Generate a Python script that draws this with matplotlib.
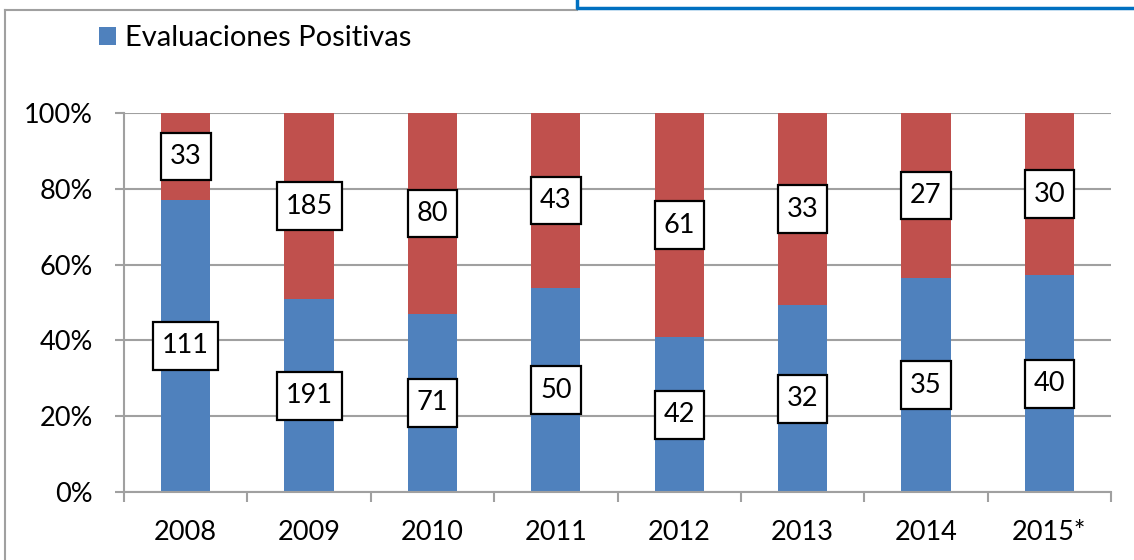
import numpy as np
import matplotlib
matplotlib.use("Agg")
import matplotlib.pyplot as plt
from matplotlib.patches import Patch
from matplotlib.lines import Line2D
from matplotlib.path import Path

# Datos
anios = ['2008', '2009', '2010', '2011', '2012', '2013', '2014', '2015*']
positivas = [111, 191, 71, 50, 42, 32, 35, 40]
negativas = [33, 185, 80, 43, 61, 33, 27, 30]

azul = '#4F81BD'
rojo = '#C0504D'
gris = '#A0A0A0'

plt.rcParams['font.family'] = ['Lato', 'DejaVu Sans']


# Caja rectangular con margen horizontal y vertical distintos
def caja_estilo(x0, y0, width, height, mutation_size):
    px = 0.33 * mutation_size
    py = 0.42 * mutation_size
    x0, y0 = x0 - px, y0 - py
    x1, y1 = x0 + width + 2 * px, y0 + height + 2 * py
    return Path([(x0, y0), (x1, y0), (x1, y1), (x0, y1), (x0, y0)], closed=True)


W, H = 1134, 560
fig = plt.figure(figsize=(W / 100, H / 100), dpi=100)
ax = fig.add_axes([124 / W, 1 - 492 / H, (1111 - 124) / W, (492 - 113) / H])

pos = np.array(positivas, dtype=float)
neg = np.array(negativas, dtype=float)
total = pos + neg
pct_pos = pos / total * 100
pct_neg = neg / total * 100
x = np.arange(len(anios))

b1 = ax.bar(x, pct_pos, width=0.4, color=azul, zorder=2)
b2 = ax.bar(x, pct_neg, width=0.4, bottom=pct_pos, color=rojo, zorder=2)

caja = dict(boxstyle=caja_estilo, facecolor='white', edgecolor='black', linewidth=1.6)
for barras, valores in ((b1, positivas), (b2, negativas)):
    ax.bar_label(barras, labels=[str(v) for v in valores], label_type='center',
                 fontsize=19.5, bbox=caja, zorder=5)

# Ejes
ax.set_xlim(-0.5, len(anios) - 0.5)
ax.set_ylim(0, 100)
ax.set_yticks(np.arange(0, 101, 20))
ax.set_yticklabels([f'{v}%' for v in range(0, 101, 20)])
ax.set_xticks(x)
ax.set_xticklabels(anios)
ax.set_xticks(np.arange(-0.5, len(anios), 1), minor=True)
ax.grid(axis='y', color=gris, linewidth=1.5, zorder=0)
ax.set_axisbelow(True)
for lado in ('top', 'right'):
    ax.spines[lado].set_visible(False)
for lado in ('left', 'bottom'):
    ax.spines[lado].set_color(gris)
    ax.spines[lado].set_linewidth(1.5)
ax.tick_params(axis='x', which='major', length=0, labelsize=19.5, pad=20)
ax.tick_params(axis='x', which='minor', length=7, width=1.5, color=gris)
ax.tick_params(axis='y', length=6.5, width=1.5, color=gris, labelsize=19.5, pad=16)

# Leyenda
fig.legend(handles=[Patch(facecolor=azul)], labels=['Evaluaciones Positivas'],
           loc='upper left', bbox_to_anchor=(99 / W, 1 - 25 / H), frameon=False,
           fontsize=21, handlelength=0.58, handleheight=0.58, handletextpad=0.3,
           borderaxespad=0, borderpad=0)

# Bordes del recuadro
fig.add_artist(Line2D([5 / W, 5 / W], [0, 1 - 10 / H], color=gris, linewidth=1.5))
fig.add_artist(Line2D([5 / W, 577 / W], [1 - 10 / H, 1 - 10 / H], color=gris, linewidth=1.5))
fig.add_artist(Line2D([577 / W, 577 / W, 1], [1, 1 - 8 / H, 1 - 8 / H],
                      color='#0070C0', linewidth=2.5))

fig.savefig('out.png', dpi=100)
